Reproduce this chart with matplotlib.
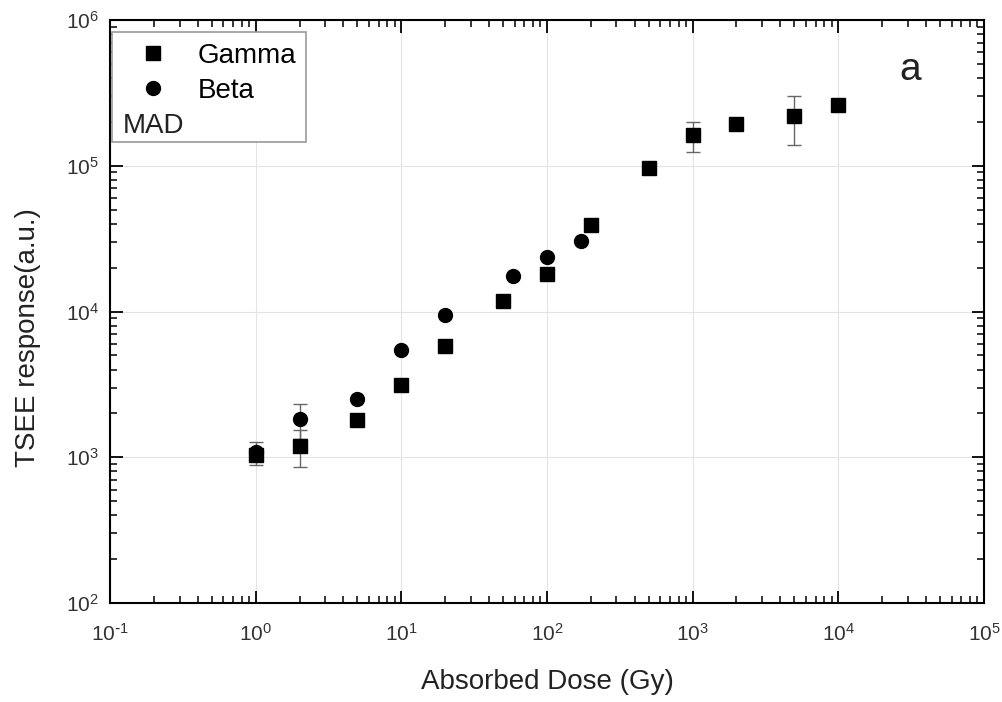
import matplotlib
matplotlib.use("Agg")
import matplotlib.pyplot as plt
from matplotlib.patches import Rectangle
from matplotlib.ticker import LogLocator, NullFormatter, FuncFormatter
import numpy as np

plt.rcParams['font.family'] = ['Liberation Sans', 'DejaVu Sans']
plt.rcParams['mathtext.default'] = 'regular'
plt.rcParams['axes.unicode_minus'] = False

# Gamma irradiation
gamma_dose = [1, 2, 5, 10, 20, 50, 100, 200, 500, 1000, 2000, 5000, 10000]
gamma_resp = [1030, 1200, 1800, 3130, 5800, 11800, 18100, 39200, 96500,
              162500, 193000, 219000, 261000]
gamma_err = [0, 340, 0, 0, 0, 0, 0, 0, 0, 38000, 0, 80000, 0]

# Beta irradiation
beta_dose = [1, 2, 5, 10, 20, 58, 100, 170]
beta_resp = [1080, 1830, 2510, 5440, 9460, 17500, 23700, 30500]
beta_err = [200, 500, 0, 0, 0, 0, 0, 0]

x_decades = [-1, 0, 1, 2, 3, 4, 5]
y_decades = [2, 3, 4, 5, 6]


def pow10(v, pos):
    e = int(round(np.log10(v)))
    if e < 0:
        return r'$10^{\text{-}%d}$' % (-e)
    return r'$10^{%d}$' % e


fig = plt.figure(figsize=(10.03, 7.02), dpi=100)
ax = fig.add_axes([0.1097, 0.141, 0.8713, 0.8305])

ax.set_xscale('log')
ax.set_yscale('log')
ax.set_xlim(1e-1, 1e5)
ax.set_ylim(1e2, 1e6)

ax.grid(True, which='major', color='#e4e4e4', linewidth=0.8)
ax.set_axisbelow(True)

ax.errorbar(gamma_dose, gamma_resp, yerr=gamma_err, fmt='none',
            ecolor='#666666', elinewidth=1.0, capsize=5, capthick=1.0)
ax.errorbar(beta_dose, beta_resp, yerr=beta_err, fmt='none',
            ecolor='#666666', elinewidth=1.0, capsize=5, capthick=1.0)
g, = ax.plot(gamma_dose, gamma_resp, 's', color='black', markersize=9.5,
             linestyle='none', label='Gamma')
b, = ax.plot(beta_dose, beta_resp, 'o', color='black', markersize=10,
             linestyle='none', label='Beta')

for spine in ax.spines.values():
    spine.set_linewidth(1.5)

ax.set_xticks([10.0 ** e for e in x_decades])
ax.set_yticks([10.0 ** e for e in y_decades])
ax.xaxis.set_minor_locator(LogLocator(base=10, subs=np.arange(2, 10), numticks=20))
ax.yaxis.set_minor_locator(LogLocator(base=10, subs=np.arange(2, 10), numticks=20))
ax.xaxis.set_major_formatter(FuncFormatter(pow10))
ax.yaxis.set_major_formatter(FuncFormatter(pow10))
ax.xaxis.set_minor_formatter(NullFormatter())
ax.yaxis.set_minor_formatter(NullFormatter())
ax.set_xlim(1e-1, 1e5)
ax.set_ylim(1e2, 1e6)
ax.tick_params(which='both', direction='in', top=True, right=True,
               labelsize=15, labelcolor='#333333')
ax.tick_params(which='major', length=9, width=1.3)
ax.tick_params(axis='x', which='major', pad=14)
ax.tick_params(axis='y', which='major', pad=8)
ax.tick_params(which='minor', length=5, width=1.1)

ax.set_xlabel('Absorbed Dose (Gy)', fontsize=20, color='#222222', labelpad=18)
ax.set_ylabel('TSEE response(a.u.)', fontsize=20, color='#222222')
ax.yaxis.set_label_coords(-0.079, 0.456)

# legend frame with MAD note
frame = Rectangle((0.0023, 0.7907), 0.2217, 0.1887, transform=ax.transAxes,
                  facecolor='white', edgecolor='#999999', linewidth=1.2,
                  zorder=4)
ax.add_patch(frame)
leg = ax.legend(handles=[g, b], loc='upper left',
                bbox_to_anchor=(0.0269, 0.961), frameon=False, fontsize=20,
                handlelength=1.4, handletextpad=0.9, labelspacing=0.32,
                borderaxespad=0, borderpad=0)
leg.set_zorder(5)
ax.text(0.015, 0.818, 'MAD', transform=ax.transAxes, fontsize=20,
        color='#222222', va='center', ha='left', zorder=6)

ax.text(0.9155, 0.9145, 'a', transform=ax.transAxes, fontsize=28,
        color='#222222', ha='center', va='center')

fig.savefig('out.png', dpi=100)
